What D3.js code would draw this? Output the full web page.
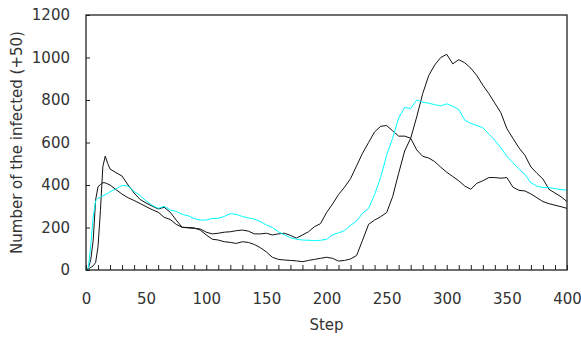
<!DOCTYPE html>
<html>
<head>
<meta charset="utf-8">
<script src="https://cdn.jsdelivr.net/npm/d3@7"></script>
<style>
  html, body { margin: 0; padding: 0; background: #fff; }
  svg { display: block; }
  .axis text { font-family: "DejaVu Sans", sans-serif; font-size: 15px; fill: #333; }
  .title { font-family: "DejaVu Sans", sans-serif; font-size: 15px; fill: #333; }
</style>
</head>
<body>
<svg id="chart" width="581" height="339"></svg>
<script>
// data
const steps = [0, 2, 4, 6, 8, 10, 12, 14, 16, 18, 20,
  25, 30, 35, 40, 45, 50, 55, 60, 65, 70, 75, 80, 85, 90, 95, 100,
  105, 110, 115, 120, 125, 130, 135, 140, 145, 150, 155, 160, 165, 170, 175, 180,
  185, 190, 195, 200, 205, 210, 215, 220, 225, 230, 235, 240, 245, 250, 255, 260,
  265, 270, 275, 280, 285, 290, 295, 300, 305, 310, 315, 320, 325, 330, 335, 340,
  345, 350, 355, 360, 365, 370, 375, 380, 385, 390, 395, 400];

const runA = [0, 5, 12, 20, 35, 110, 280, 486, 536, 502, 475,
  458, 442, 400, 362, 332, 315, 301, 287, 295, 272, 235, 201, 198, 196, 193, 178,
  170, 173, 178, 180, 185, 188, 183, 170, 170, 173, 165, 170, 173, 163, 150, 165,
  180, 204, 218, 270, 310, 355, 390, 430, 490, 550, 600, 650, 676, 680, 655, 630,
  630, 620, 565, 535, 527, 510, 484, 460, 440, 420, 395, 380, 408, 420, 435, 435,
  432, 435, 390, 375, 372, 358, 340, 322, 312, 305, 298, 290];

const runB = [0, 10, 50, 141, 330, 392, 402, 411, 410, 405, 400,
  378, 357, 340, 327, 313, 298, 284, 272, 248, 238, 215, 201, 200, 198, 188, 165,
  145, 141, 133, 130, 125, 133, 130, 120, 105, 85, 60, 50, 47, 45, 43, 39,
  45, 50, 55, 60, 55, 42, 45, 52, 68, 140, 215, 235, 251, 270, 345, 455,
  560, 620, 720, 830, 915, 965, 1000, 1015, 970, 990, 975, 950, 915, 870, 830, 785,
  740, 665, 620, 575, 540, 485, 455, 428, 380, 362, 345, 322];

const runC = [0, 8, 120, 251, 325, 337, 342, 348, 355, 360, 368,
  382, 398, 395, 370, 350, 325, 305, 290, 300, 282, 276, 262, 255, 242, 235, 235,
  243, 243, 252, 265, 262, 252, 245, 240, 228, 212, 200, 180, 165, 152, 145, 141,
  140, 138, 140, 144, 165, 175, 185, 210, 230, 267, 290, 355, 435, 540, 620, 715,
  765, 760, 800, 790, 785, 778, 772, 782, 770, 755, 705, 690, 680, 670, 640, 610,
  575, 535, 505, 475, 450, 410, 395, 388, 388, 383, 378, 376];

const xTicks = [0, 50, 100, 150, 200, 250, 300, 350, 400];
const yTicks = [0, 200, 400, 600, 800, 1000, 1200];

const series = [
  {name: 'A', values: runA, color: '#111'},
  {name: 'B', values: runB, color: '#111'},
  {name: 'C', values: runC, color: '#00ffff'}
];

// plot box
const box = {left: 86, right: 567, top: 15, bottom: 270};

const svg = d3.select('#chart');

const x = d3.scaleLinear().domain([0, 400]).range([box.left, box.right]);
const y = d3.scaleLinear().domain([0, 1200]).range([box.bottom, box.top]);

// minor ticks every 10 steps, pointing inward
svg.append('g')
  .attr('class', 'axis')
  .attr('transform', 'translate(0,' + box.bottom + ')')
  .call(d3.axisBottom(x).tickValues(d3.range(0, 401, 10)).tickFormat('').tickSize(-5).tickSizeOuter(0))
  .call(g => g.select('.domain').remove())
  .call(g => g.selectAll('line').attr('stroke', '#222'));

svg.append('g')
  .attr('class', 'axis')
  .attr('transform', 'translate(0,' + box.bottom + ')')
  .call(d3.axisBottom(x).tickValues(xTicks).tickFormat(d3.format('d')).tickSize(0).tickPadding(23))
  .call(g => g.select('.domain').remove());

svg.append('g')
  .attr('class', 'axis')
  .attr('transform', 'translate(' + box.left + ',0)')
  .call(d3.axisLeft(y).tickValues(yTicks).tickFormat(d3.format('d')).tickSize(-4).tickSizeOuter(0).tickPadding(16))
  .call(g => g.select('.domain').remove())
  .call(g => g.selectAll('line').attr('stroke', '#222'));

const line = d3.line()
  .x((d, i) => x(steps[i]))
  .y(d => y(d));

svg.selectAll('path.run')
  .data(series)
  .enter()
  .append('path')
  .attr('class', 'run')
  .attr('fill', 'none')
  .attr('stroke', d => d.color)
  .attr('stroke-width', 1)
  .attr('stroke-linejoin', 'round')
  .attr('d', d => line(d.values));

// frame
svg.append('rect')
  .attr('x', box.left)
  .attr('y', box.top)
  .attr('width', box.right - box.left)
  .attr('height', box.bottom - box.top)
  .attr('fill', 'none')
  .attr('stroke', '#222')
  .attr('stroke-width', 1.3);

svg.append('text')
  .attr('class', 'title')
  .attr('x', (box.left + box.right) / 2)
  .attr('y', 330)
  .attr('text-anchor', 'middle')
  .text('Step');

svg.append('text')
  .attr('class', 'title')
  .attr('transform', 'translate(22,' + ((box.top + box.bottom) / 2) + ') rotate(-90)')
  .attr('text-anchor', 'middle')
  .text('Number of the infected (+50)');
</script>
</body>
</html>
